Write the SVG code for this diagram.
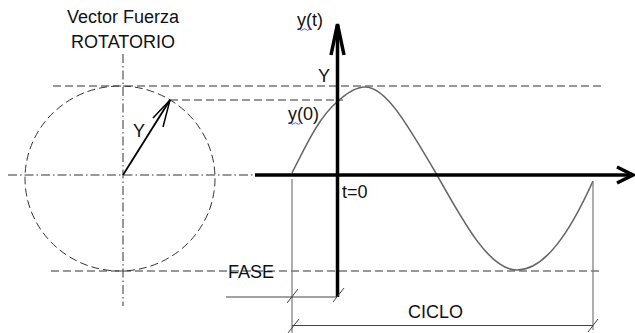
<svg xmlns="http://www.w3.org/2000/svg" width="635" height="333" viewBox="0 0 635 333">
<style>
text{font-family:"Liberation Sans",Arial,sans-serif;font-size:18px;fill:#111}
.dash{stroke:#333;stroke-width:1;stroke-dasharray:8 4;fill:none}
.dashdot{stroke:#333;stroke-width:1;stroke-dasharray:9 3 1.5 3;fill:none}
.ext{stroke:#777;stroke-width:1.2;fill:none}
.dim{stroke:#444;stroke-width:1;fill:none}
.thick{stroke:#000;stroke-width:3.5;fill:none;stroke-linecap:butt}
.squig{stroke:#33f;stroke-width:0.8;fill:none}
</style>
<rect width="635" height="333" fill="#fff"/>
<g id="guides">
<ellipse cx="120" cy="178.5" rx="95" ry="92.5" class="dash" stroke-dasharray="9 4"/>
<line x1="8" y1="175" x2="255" y2="175" class="dashdot"/>
<line x1="123" y1="54" x2="123" y2="306" class="dashdot"/>
<line x1="53" y1="86" x2="605" y2="86" class="dash"/>
<line x1="170" y1="100" x2="343" y2="100" class="dash"/>
<line x1="51" y1="271" x2="603" y2="271" class="dash"/>
</g>
<g id="vector">
<line x1="123" y1="175" x2="170" y2="100" stroke="#000" stroke-width="1.8"/>
<polyline points="153,118 170,100 163,127" fill="none" stroke="#000" stroke-width="1.5"/>
</g>
<g id="wave">
<path d="M292,172.8 C305,148 318,118 337,102 C350,90 360,87 365,87 C385,87 405,120 437,175 C465,225 490,270 517,270 C545,270 570,232 593,181" fill="none" stroke="#666" stroke-width="1.6"/>
</g>
<g id="connectors">
<line x1="255" y1="175" x2="632" y2="175" class="thick" stroke-width="3.2"/>
<polyline points="617,167 633,175 617,183" class="thick" stroke-width="3.2" stroke-linejoin="miter"/>
<line x1="337.5" y1="297" x2="337.5" y2="25" class="thick"/>
<polyline points="331,55 337.5,24 344,55" class="thick" stroke-linejoin="miter"/>
<line x1="292" y1="179" x2="292" y2="333" class="ext"/>
<line x1="593" y1="182" x2="593" y2="330" class="ext"/>
<line x1="226" y1="297" x2="337" y2="297" class="dim"/>
<line x1="287" y1="303" x2="298" y2="289" class="dim"/>
<line x1="333" y1="302" x2="344" y2="288" class="dim"/>
<line x1="292" y1="325.5" x2="593" y2="325.5" class="dim"/>
<line x1="288" y1="333" x2="299" y2="319" class="dim"/>
<line x1="588" y1="332" x2="598" y2="319" class="dim"/>
</g>
<g id="labels">
<text x="123" y="23" text-anchor="middle">Vector Fuerza</text>
<text x="123" y="48" text-anchor="middle">ROTATORIO</text>
<text x="297" y="26">y(t)</text>
<path d="M297,29.5 q1.5,-1.5 3,0 t3,0 t3,0 t3,0 t3,0" class="squig"/>
<text x="318" y="82">Y</text>
<text x="288" y="120">y(0)</text>
<path d="M288,123.5 q1.5,-1.5 3,0 t3,0 t3,0 t3,0" class="squig"/>
<text x="133" y="137">Y</text>
<text x="342" y="198">t=0</text>
<text x="228" y="278">FASE</text>
<text x="408" y="318">CICLO</text>
</g>
</svg>
